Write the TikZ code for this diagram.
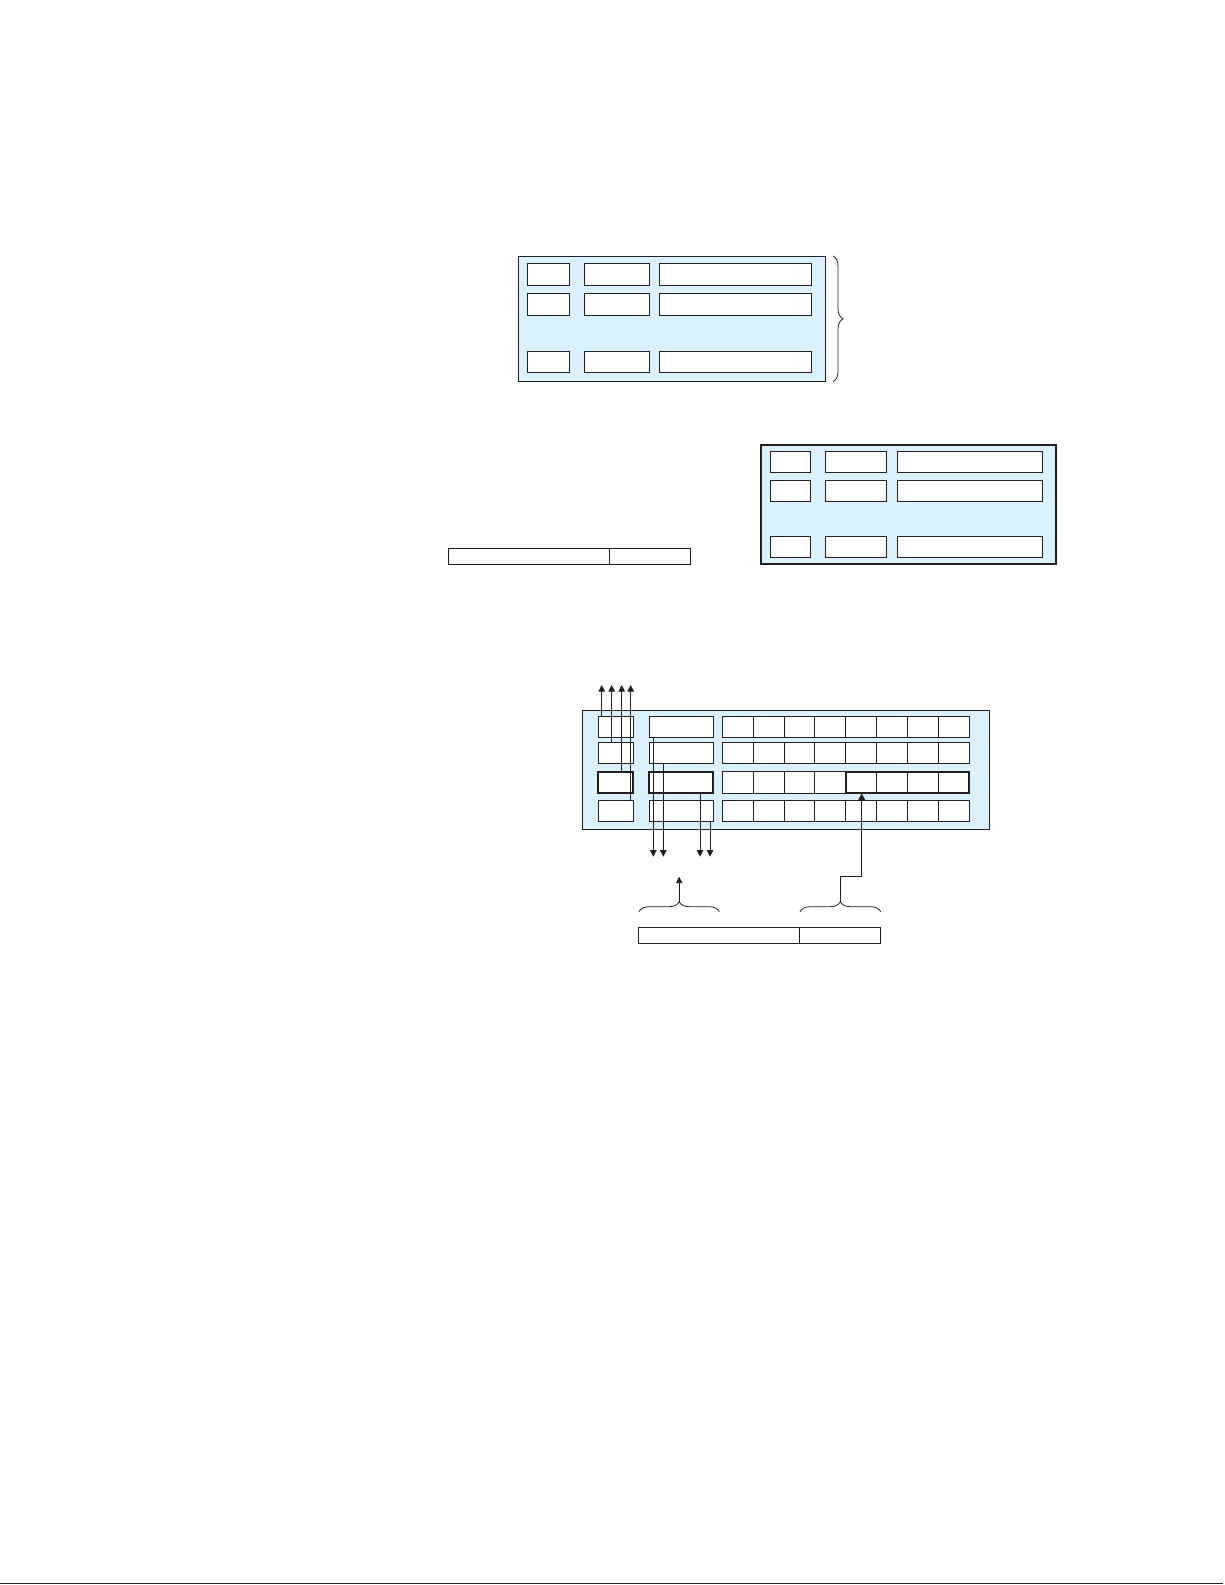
\documentclass[tikz,border=0pt]{standalone}
\usetikzlibrary{arrows.meta,decorations.pathreplacing,fit}
\definecolor{ink}{HTML}{231F20}
\definecolor{pale}{HTML}{DAF0FA}
\tikzset{
 cell/.style={draw=ink,fill=white,line width=1pt,inner sep=0pt,outer sep=0pt,rectangle},
 cellhl/.style={cell,line width=2pt},
 panel/.style={draw=ink,fill=pale,line width=1pt,inner sep=0pt,outer sep=0pt,rectangle},
 panelthick/.style={panel,line width=2.2pt},
 hlframe/.style={draw=ink,line width=2pt,inner sep=0pt,outer sep=0pt,rectangle},
 arr/.style={draw=ink,line width=1pt,-{Triangle[length=6.5pt,width=6.5pt]}},
 brc/.style={draw=ink,line width=0.8pt,decorate,decoration={brace,amplitude=10pt}},
 rulel/.style={draw=ink,line width=1.6pt}
}
\newcommand\bx[6][cell]{\node[#1,minimum width={#5pt-#3pt},minimum height={#6pt-#4pt}] (#2) at ({(#3+#5)/2},{(#4+#6)/2}) {};}
\begin{document}
\begin{tikzpicture}[x=1pt,y=-1pt]
\useasboundingbox (0,0) rectangle (1225,1585);
% ---------- panel A (top) ----------
\bx[panel]{A}{518.3}{256}{825.5}{381.7}
\foreach \r/\ya/\yb in {1/263.3/285, 2/293.3/315, 3/351/372.7} {
  \bx{Ar\r c1}{527.3}{\ya}{569.3}{\yb}
  \bx{Ar\r c2}{584.3}{\ya}{649}{\yb}
  \bx{Ar\r c3}{659.3}{\ya}{811.7}{\yb}
}
\coordinate (BTa) at (833,256);
\coordinate (BTb) at (833,381.7);
\draw[brc] (BTa) -- (BTb);
% ---------- bar 1 ----------
\bx{Ba1}{448.3}{548.3}{609.3}{564}
\bx{Ba2}{609.3}{548.3}{690}{564}
% ---------- panel B ----------
\bx[panelthick]{B}{760.7}{445}{1056}{564.3}
\foreach \r/\ya/\yb in {1/451/472.3, 2/480/501.7, 3/536/557.7} {
  \bx{Br\r c1}{770.7}{\ya}{810.7}{\yb}
  \bx{Br\r c2}{825.7}{\ya}{886.7}{\yb}
  \bx{Br\r c3}{897.3}{\ya}{1042.7}{\yb}
}
% ---------- panel C ----------
\bx[panel]{C}{582.3}{710.7}{989.3}{829.3}
\foreach \r/\ya/\yb in {1/716.7/737.3, 2/742.3/763.3, 3/771.7/793.3, 4/800/821.7} {
  \foreach \c in {1,...,8} {
    \pgfmathsetmacro\xa{722.3+(\c-1)*30.875}
    \pgfmathsetmacro\xb{722.3+\c*30.875}
    \bx{Cr\r b\c}{\xa}{\ya}{\xb}{\yb}
  }
}
\foreach \r/\ya/\yb in {1/716.7/737.3, 2/742.3/763.3, 4/800/821.7} {
  \bx{Cr\r c1}{598.3}{\ya}{633.3}{\yb}
  \bx{Cr\r c2}{649.3}{\ya}{713.3}{\yb}
}
\bx[cellhl]{Cr3c1}{598.3}{771.7}{633.3}{793.3}
\bx[cellhl]{Cr3c2}{649.3}{771.7}{713.3}{793.3}
\node[hlframe,fit=(Cr3b5)(Cr3b8)] (Chl) {};
% up arrows
\foreach \i/\x/\src in {1/601.7/Cr1c1, 2/611.7/Cr2c1, 3/621.7/Cr3c1, 4/630.7/Cr4c1} {
  \coordinate (up\i) at (\x,685);
  \draw[arr] (up\i |- \src.north) -- (up\i);
}
% down arrows
\foreach \i/\x/\src in {1/653.3/Cr1c2, 2/663.3/Cr2c2, 3/700/Cr3c2, 4/710/Cr4c2} {
  \coordinate (dn\i) at (\x,856.7);
  \draw[arr] (dn\i |- \src.south) -- (dn\i);
}
% braces below
\coordinate (BLa) at (639,911.7);
\coordinate (BLb) at (719.3,911.7);
\draw[brc] (BLa) -- (BLb);
\coordinate (BLtip) at (679.15,901.7);
\coordinate (BLhead) at (679.15,876.7);
\draw[arr] (BLtip) -- (BLhead);
\coordinate (BRa) at (800,911.7);
\coordinate (BRb) at (880.7,911.7);
\draw[brc] (BRa) -- (BRb);
\coordinate (BRtip) at (840.35,901.7);
\coordinate (BRbend) at (861.7,876.7);
\draw[arr] (BRtip) |- (BRbend) -- (BRbend |- Chl.south);
% ---------- bar 2 ----------
\bx{Bb1}{638.3}{927.3}{799.3}{943.3}
\bx{Bb2}{799.3}{927.3}{880.7}{943.3}
% ---------- bottom rule ----------
\coordinate (R1) at (0,1583.5);
\coordinate (R2) at (1223,1583.5);
\draw[rulel] (R1) -- (R2);
\end{tikzpicture}
\end{document}
